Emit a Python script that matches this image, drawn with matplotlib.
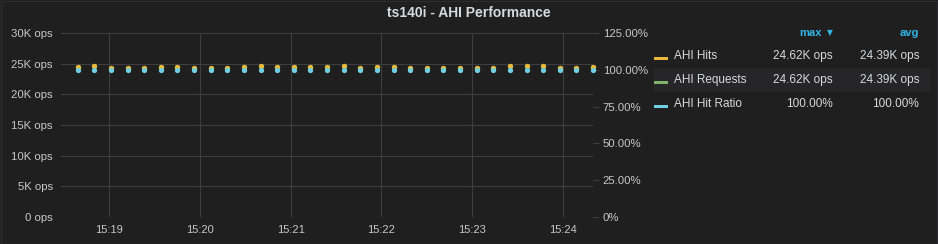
import matplotlib
matplotlib.use("Agg")
import matplotlib.pyplot as plt
import matplotlib.dates as mdates
from matplotlib.patches import Rectangle
from datetime import datetime

# ---------------- data ----------------
times = ["15:18:39", "15:18:50", "15:19:01", "15:19:12", "15:19:23", "15:19:34",
         "15:19:45", "15:19:56", "15:20:07", "15:20:18", "15:20:29", "15:20:40",
         "15:20:51", "15:21:02", "15:21:13", "15:21:24", "15:21:35", "15:21:46",
         "15:21:57", "15:22:08", "15:22:19", "15:22:30", "15:22:41", "15:22:52",
         "15:23:03", "15:23:14", "15:23:25", "15:23:36", "15:23:47", "15:23:58",
         "15:24:09", "15:24:20"]
ahi_hits = [24450, 24580, 24250, 24350, 24280, 24500, 24450, 24300, 24350, 24350,
            24380, 24550, 24420, 24450, 24500, 24480, 24570, 24300, 24460, 24430,
            24250, 24250, 24250, 24330, 24300, 24280, 24620, 24620, 24600, 24300,
            24340, 24400]
ahi_requests = list(ahi_hits)
ahi_hit_ratio = [1.0] * 32

left_ticks = [0, 5000, 10000, 15000, 20000, 25000, 30000]
left_labels = ["0 ops", "5K ops", "10K ops", "15K ops", "20K ops", "25K ops", "30K ops"]
right_ticks = [0, 0.25, 0.5, 0.75, 1.0, 1.25]
right_labels = ["0%", "25.00%", "50.00%", "75.00%", "100.00%", "125.00%"]
x_start, x_end = "15:18:28", "15:24:20"

legend_names = ["AHI Hits", "AHI Requests", "AHI Hit Ratio"]
legend_max = ["24.62K ops", "24.62K ops", "100.00%"]
legend_avg = ["24.39K ops", "24.39K ops", "100.00%"]
colors = ["#EAB839", "#7EB26D", "#6ED0E0"]
title = "ts140i - AHI Performance"

# ---------------- style ----------------
BG = "#1f1f20"
GRID = "#3e3e3e"
TXT = "#c8c8c8"
BLUE = "#33b5e5"
FONT = ["Liberation Sans", "DejaVu Sans"]
plt.rcParams["font.family"] = FONT

W, H = 938, 244
fig = plt.figure(figsize=(W / 100, H / 100), dpi=100, facecolor=BG)

def fx(px):
    return px / W

def fy(py):
    return 1 - py / H

base = "2017-01-01 "
t = [datetime.strptime(base + s, "%Y-%m-%d %H:%M:%S") for s in times]

ax = fig.add_axes([fx(61), fy(217), fx(593 - 61), (217 - 33) / H])
ax.set_facecolor(BG)
ax2 = ax.twinx()

ax.plot(t, ahi_requests, linestyle="none", marker="o", markersize=3.8,
        color=colors[1], markeredgewidth=0, clip_on=False, zorder=3)
ax.plot(t, ahi_hits, linestyle="none", marker="o", markersize=3.8,
        color=colors[0], markeredgewidth=0, clip_on=False, zorder=4)
ax2.plot(t, ahi_hit_ratio, linestyle="none", marker="o", markersize=3.8,
         color=colors[2], markeredgewidth=0, clip_on=False, zorder=5)

ax.set_xlim(datetime.strptime(base + x_start, "%Y-%m-%d %H:%M:%S"),
            datetime.strptime(base + x_end, "%Y-%m-%d %H:%M:%S"))
ax.set_ylim(0, 30000)
ax2.set_ylim(0, 1.25)

ax.set_yticks(left_ticks)
ax.set_yticklabels(left_labels)
ax2.set_yticks(right_ticks)
ax2.set_yticklabels(right_labels)

ax.xaxis.set_major_locator(mdates.MinuteLocator())
ax.xaxis.set_major_formatter(mdates.DateFormatter("%H:%M"))

ax.grid(True, color=GRID, linewidth=0.8)
ax.set_axisbelow(True)
for a in (ax, ax2):
    for s in a.spines.values():
        s.set_visible(False)

ax.tick_params(axis="both", length=0, colors=TXT, labelsize=8.2)
ax.tick_params(axis="y", pad=6)
ax.tick_params(axis="x", pad=6, labelsize=8)
ax2.tick_params(axis="y", length=4, width=0.8, color=GRID, colors=TXT,
                labelsize=8.2, pad=3)
for lab in ax2.get_yticklabels():
    lab.set_color(TXT)

# title
fig.text(0.5, fy(13), title, ha="center", va="center", color="#d8d9da",
         fontsize=10, fontweight="bold")

# panel border
fig.add_artist(Rectangle((fx(0.5), fy(243.5)), fx(936), (243) / H,
                         transform=fig.transFigure, fill=False,
                         edgecolor="#2b2b2d", linewidth=1))

# legend
fig.text(fx(822), fy(33), "max", ha="right", va="center", color=BLUE,
         fontsize=8, fontweight="bold")
fig.text(fx(830), fy(33), "\u25BC", ha="center", va="center", color=BLUE,
         fontsize=5.5, family=["DejaVu Sans"])
fig.text(fx(919), fy(33), "avg", ha="right", va="center", color=BLUE,
         fontsize=8, fontweight="bold")

rows_y = [56, 80, 104]
fig.add_artist(Rectangle((fx(654), fy(92)), fx(930 - 654), 24 / H,
                         transform=fig.transFigure, facecolor="#262628",
                         edgecolor="none", zorder=0))
for name, mx, av, c, ry in zip(legend_names, legend_max, legend_avg, colors, rows_y):
    fig.add_artist(Rectangle((fx(654), fy(ry + 3.5)), fx(14), 3 / H,
                             transform=fig.transFigure, facecolor=c,
                             edgecolor="none"))
    fig.text(fx(674), fy(ry), name, ha="left", va="center", color="#d8d9da",
             fontsize=8.5)
    fig.text(fx(833), fy(ry), mx, ha="right", va="center", color="#d8d9da",
             fontsize=8.5)
    fig.text(fx(919), fy(ry), av, ha="right", va="center", color="#d8d9da",
             fontsize=8.5)

fig.savefig("out.png", dpi=100, facecolor=BG)
